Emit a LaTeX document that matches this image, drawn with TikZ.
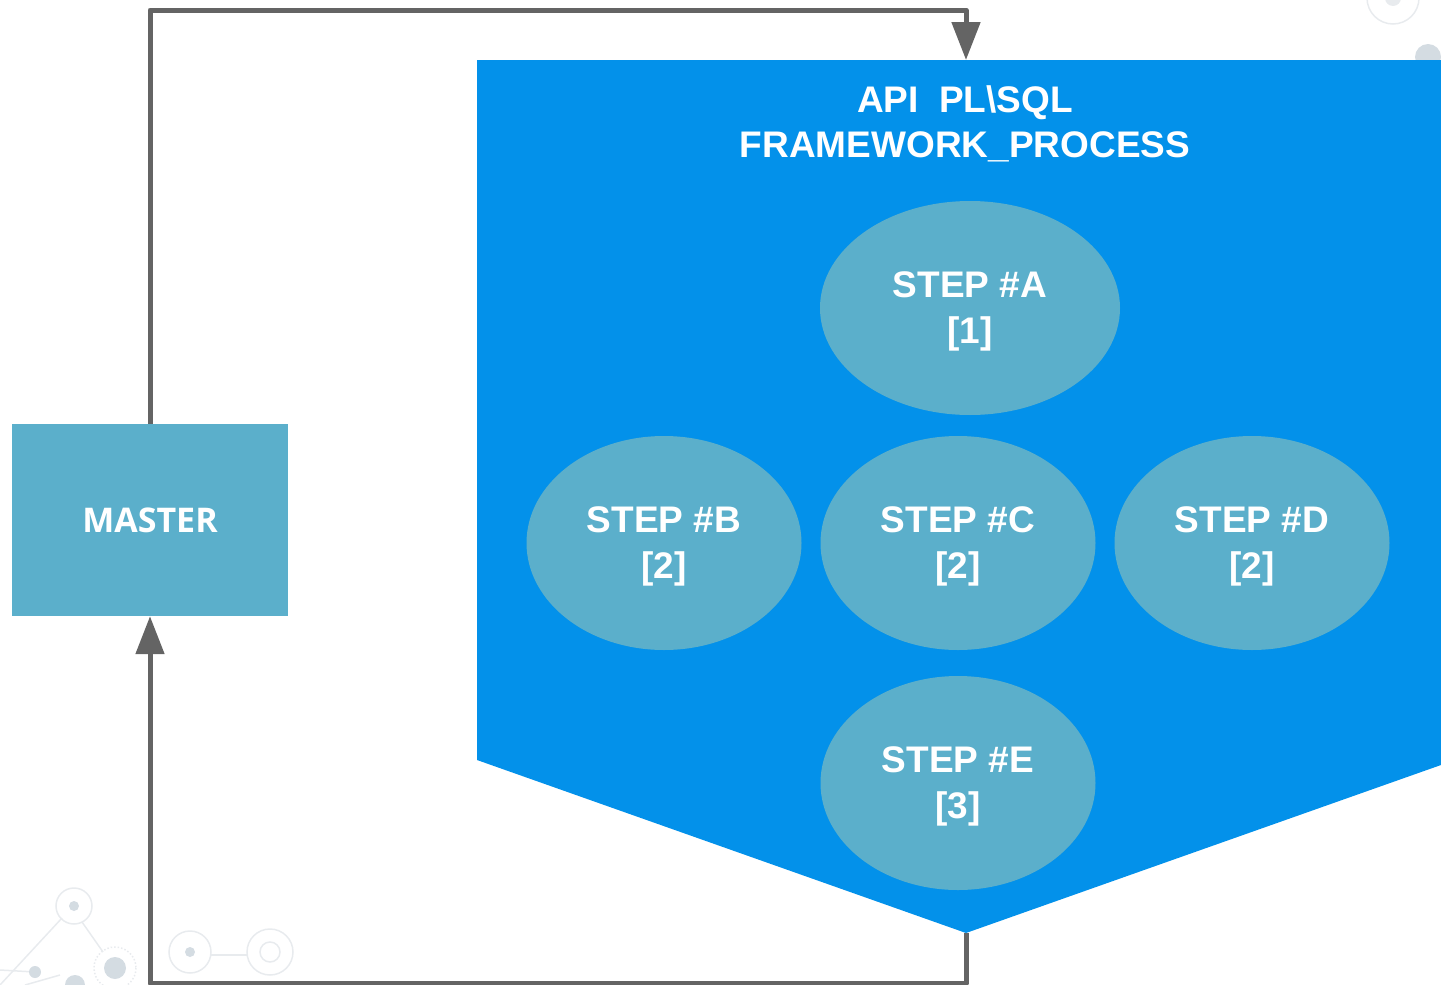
\documentclass[tikz,border=0pt]{standalone}
\usepackage{fontspec}
\setmainfont{Liberation Sans}
\newfontfamily\mastfont{Open Sans}
\usetikzlibrary{arrows.meta,shapes.geometric}
\definecolor{stepfill}{RGB}{91,175,203}
\definecolor{apiblue}{RGB}{3,145,234}
\definecolor{linkgrey}{RGB}{100,100,100}
\definecolor{decogrey}{RGB}{232,235,238}
\definecolor{decodot}{RGB}{212,220,226}
\tikzset{
  stepnode/.style={ellipse, fill=stepfill, text=white, font=\fontsize{37}{46}\selectfont\bfseries, align=center, inner sep=0pt, text depth=-7pt},
  flow/.style={draw=linkgrey, line width=5pt, -{Triangle[width=28pt,length=38pt]}},
  deco/.style={draw=decogrey, line width=1.5pt},
}
\begin{document}
\begin{tikzpicture}[x=1pt,y=-1pt]
\useasboundingbox (0,0) rectangle (1441,985);
% faint background ornaments
\draw[deco] (1393,-2) circle (26);
\fill[decogrey] (1393,-2) circle (8);
\fill[decodot] (1428,57) circle (13);
\draw[deco] (0,985) -- (62,918);
\draw[deco] (82,922) -- (103,952);
\draw[deco] (74,906) circle (18);
\fill[decodot] (74,906) circle (5);
\draw[deco] (0,970) -- (35,972);
\fill[decodot] (35,972) circle (6);
\draw[deco] (25,985) -- (60,975);
\draw[deco, dotted] (115,968) circle (21);
\fill[decodot] (115,968) circle (11);
\fill[decodot] (75,985) circle (10);
\draw[deco] (190,952) circle (21);
\fill[decodot] (190,952) circle (5);
\draw[deco] (211,955) -- (248,955);
\draw[deco] (270,952) circle (23);
\draw[deco] (270,952) circle (10);
% framework container
\fill[apiblue] (477,60) -- (1441,60) -- (1441,765) -- (966,933) -- (477,760) -- cycle;
\coordinate (apitop) at (966,60);
\coordinate (apibot) at (966,933);
\node[text=white, font=\fontsize{37}{45}\selectfont\bfseries, align=center] (title) at (965,124) {API\ \ PL\textbackslash SQL\\FRAMEWORK\_PROCESS};
% steps
\node[stepnode, minimum width=300pt, minimum height=214pt] (a) at (970,308) {STEP \#A\\{[1]}};
\node[stepnode, minimum width=275pt, minimum height=214pt] (b) at (664,543) {STEP \#B\\{[2]}};
\node[stepnode, minimum width=275pt, minimum height=214pt] (c) at (958,543) {STEP \#C\\{[2]}};
\node[stepnode, minimum width=275pt, minimum height=214pt] (d) at (1252,543) {STEP \#D\\{[2]}};
\node[stepnode, minimum width=275pt, minimum height=214pt] (e) at (958,783) {STEP \#E\\{[3]}};
% master
\node[fill=stepfill, text=white, minimum width=276pt, minimum height=192pt, inner sep=0pt, font=\mastfont\fontsize{34}{40}\selectfont\bfseries] (master) at (150,520) {MASTER};
% loop connectors
\draw[flow, line join=round] (master.north) -- (150,10) -- (966,10) -- (apitop);
\draw[flow, line join=round] (apibot) -- (966,983) -- (150,983) -- (master.south);
\end{tikzpicture}
\end{document}
